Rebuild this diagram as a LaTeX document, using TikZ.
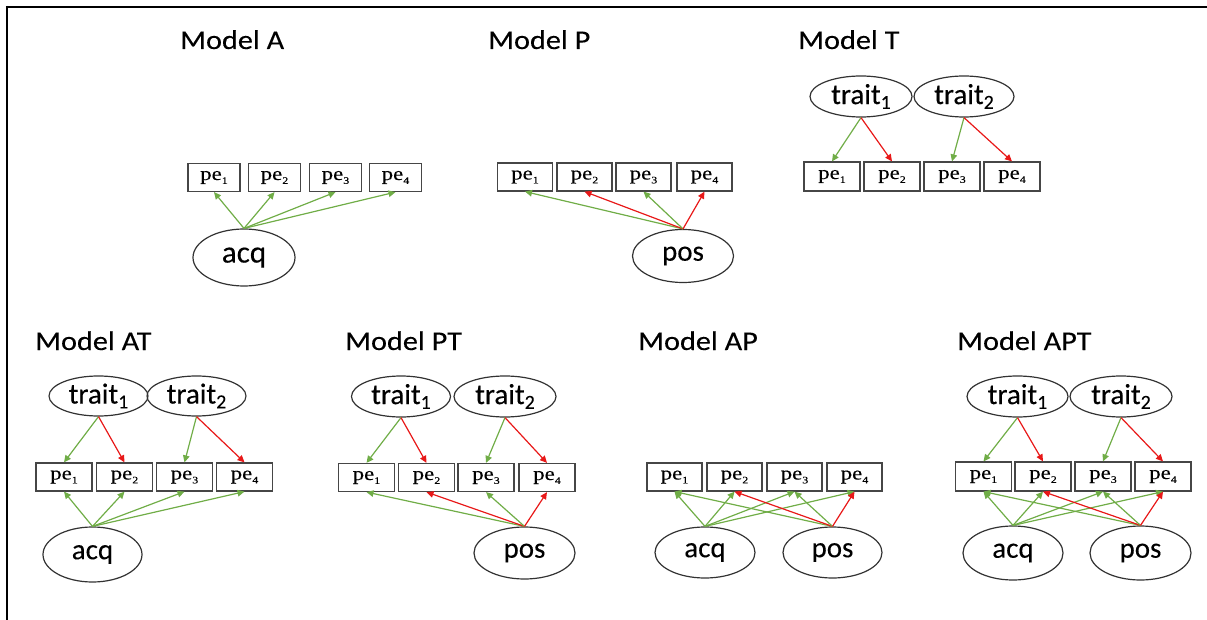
\documentclass[tikz,border=0pt]{standalone}
\usepackage{fontspec}
\setmainfont[FakeBold=0.2]{Carlito}
\newfontfamily\titlefont[FakeStretch=1.12,FakeBold=0.15]{Carlito}
\newfontfamily\pefont[FakeStretch=1.2,FakeBold=0.2]{Liberation Serif}
\usetikzlibrary{shapes.geometric,arrows.meta}
\definecolor{grn}{RGB}{112,173,71}
\definecolor{rd}{RGB}{232,24,24}
\definecolor{edk}{RGB}{50,50,50}
\definecolor{bdk}{RGB}{70,70,70}
% subscripts for indicator boxes and trait factors
\newcommand\psub[1]{\raisebox{-0.45ex}{\fontsize{10}{10}\selectfont #1}}
\newcommand\tsub[1]{\raisebox{-0.35ex}{\fontsize{20}{20}\selectfont #1}}
\tikzset{
  pebox/.style={draw=bdk, line width=1.2pt, rectangle, inner sep=0pt,
    minimum width=55pt, minimum height=28pt, font=\pefont\fontsize{19}{19}\selectfont},
  lat/.style={ellipse, draw=edk, line width=1.2pt, inner sep=0pt,
    font=\fontsize{29}{29}\selectfont},
  ttl/.style={anchor=base west, inner sep=0pt, font=\titlefont\fontsize{27}{27}\selectfont},
  gar/.style={draw=grn, line width=1.2pt, -{Triangle[length=7pt,width=6.5pt]}},
  rar/.style={draw=rd, line width=1.2pt, -{Triangle[length=7pt,width=6.5pt]}},
  frame/.style={line width=2.5pt, black}
}
\begin{document}
\begin{tikzpicture}[x=1pt, y=-1pt]
\useasboundingbox (0,0) rectangle (1207,620);
% outer frame (top and left edges)
\draw[frame] (5.8,7) -- (1207,7);
\draw[frame] (7,5.8) -- (7,620);

% ---------------- Model A ----------------
\node[ttl] (tA) at (180,49) {Model A};
\foreach \i/\x in {1/214,2/274.5,3/335.5,4/395.5}
  \node[pebox, minimum width=52pt] (A\i) at (\x,177.5) {pe\psub{\i}};
\node[lat, minimum width=102pt, minimum height=57pt, font=\fontsize{31}{31}\selectfont] (Aacq) at (244,257.5) {acq};
\foreach \i in {1,...,4} \draw[gar] (Aacq.north) -- (A\i.south);

% ---------------- Model P ----------------
\node[ttl] (tP) at (488,49) {Model P};
\foreach \i/\x in {1/525,2/584.5,3/643.5,4/704.5}
  \node[pebox] (P\i) at (\x,177) {pe\psub{\i}};
\node[lat, minimum width=101pt, minimum height=53pt] (Ppos) at (683,256) {pos};
\draw[gar] (Ppos.north) -- (P1.south);
\draw[rar] (Ppos.north) -- (P2.south);
\draw[gar] (Ppos.north) -- (P3.south);
\draw[rar] (Ppos.north) -- (P4.south);

% ---------------- Model T ----------------
\node[ttl] (tT) at (798,49) {Model T};
\foreach \i/\x in {1/832,2/892,3/952,4/1012}
  \node[pebox, minimum width=56pt, minimum height=29pt] (T\i) at (\x,176.5) {pe\psub{\i}};
\node[lat, minimum width=102pt, minimum height=41pt] (Tt1) at (861,96.5) {trait\tsub{1}};
\node[lat, minimum width=100pt, minimum height=41pt] (Tt2) at (964,96.5) {trait\tsub{2}};
\draw[gar] (Tt1.south) -- (T1.north);
\draw[rar] (Tt1.south) -- (T2.north);
\draw[gar] (Tt2.south) -- (T3.north);
\draw[rar] (Tt2.south) -- (T4.north);

% ---------------- Model AT ----------------
\node[ttl] (tAT) at (35,350) {Model AT};
\foreach \i/\x in {1/64,2/124.5,3/184.5,4/244.5}
  \node[pebox, minimum width=56pt] (AT\i) at (\x,477) {pe\psub{\i}};
\node[lat, minimum width=99pt, minimum height=40pt] (ATt1) at (98.5,396) {trait\tsub{1}};
\node[lat, minimum width=99pt, minimum height=40pt] (ATt2) at (196.5,396) {trait\tsub{2}};
\node[lat, minimum width=99pt, minimum height=55pt] (ATacq) at (92.5,554.5) {acq};
\draw[gar] (ATt1.south) -- (AT1.north);
\draw[rar] (ATt1.south) -- (AT2.north);
\draw[gar] (ATt2.south) -- (AT3.north);
\draw[rar] (ATt2.south) -- (AT4.north);
\foreach \i in {1,...,4} \draw[gar] (ATacq.north) -- (AT\i.south);

% ---------------- Model PT ----------------
\node[ttl] (tPT) at (345,350) {Model PT};
\foreach \i/\x in {1/366.5,2/426.5,3/486,4/547}
  \node[pebox, minimum width=56pt] (PT\i) at (\x,477.5) {pe\psub{\i}};
\node[lat, minimum width=99pt, minimum height=41pt] (PTt1) at (401,396.5) {trait\tsub{1}};
\node[lat, minimum width=102pt, minimum height=41pt] (PTt2) at (505,396.5) {trait\tsub{2}};
\node[lat, minimum width=101pt, minimum height=52pt] (PTpos) at (524.5,553) {pos};
\draw[gar] (PTt1.south) -- (PT1.north);
\draw[rar] (PTt1.south) -- (PT2.north);
\draw[gar] (PTt2.south) -- (PT3.north);
\draw[rar] (PTt2.south) -- (PT4.north);
\draw[gar] (PTpos.north) -- (PT1.south);
\draw[rar] (PTpos.north) -- (PT2.south);
\draw[gar] (PTpos.north) -- (PT3.south);
\draw[rar] (PTpos.north) -- (PT4.south);

% ---------------- Model AP ----------------
\node[ttl] (tAP) at (638,350) {Model AP};
\foreach \i/\x in {1/674.5,2/734.5,3/794.5,4/854.5}
  \node[pebox] (AP\i) at (\x,477) {pe\psub{\i}};
\node[lat, minimum width=100pt, minimum height=51pt] (APacq) at (705,552.5) {acq};
\node[lat, minimum width=99pt, minimum height=51pt] (APpos) at (832.5,552.5) {pos};
\foreach \i in {1,...,4} \draw[gar] (APacq.north) -- (AP\i.south);
\draw[gar] (APpos.north) -- (AP1.south);
\draw[rar] (APpos.north) -- (AP2.south);
\draw[gar] (APpos.north) -- (AP3.south);
\draw[rar] (APpos.north) -- (AP4.south);

% ---------------- Model APT ----------------
\node[ttl] (tAPT) at (957,350) {Model APT};
\foreach \i/\x in {1/983.5,2/1043,3/1103,4/1163}
  \node[pebox, minimum width=56pt, minimum height=29pt] (APT\i) at (\x,476.5) {pe\psub{\i}};
\node[lat, minimum width=101pt, minimum height=41pt] (APTt1) at (1017.5,396.5) {trait\tsub{1}};
\node[lat, minimum width=102pt, minimum height=41pt] (APTt2) at (1121,396.5) {trait\tsub{2}};
\node[lat, minimum width=100pt, minimum height=54pt] (APTacq) at (1013,553) {acq};
\node[lat, minimum width=101pt, minimum height=54pt] (APTpos) at (1140.5,553) {pos};
\draw[gar] (APTt1.south) -- (APT1.north);
\draw[rar] (APTt1.south) -- (APT2.north);
\draw[gar] (APTt2.south) -- (APT3.north);
\draw[rar] (APTt2.south) -- (APT4.north);
\foreach \i in {1,...,4} \draw[gar] (APTacq.north) -- (APT\i.south);
\draw[gar] (APTpos.north) -- (APT1.south);
\draw[rar] (APTpos.north) -- (APT2.south);
\draw[gar] (APTpos.north) -- (APT3.south);
\draw[rar] (APTpos.north) -- (APT4.south);
\end{tikzpicture}
\end{document}
